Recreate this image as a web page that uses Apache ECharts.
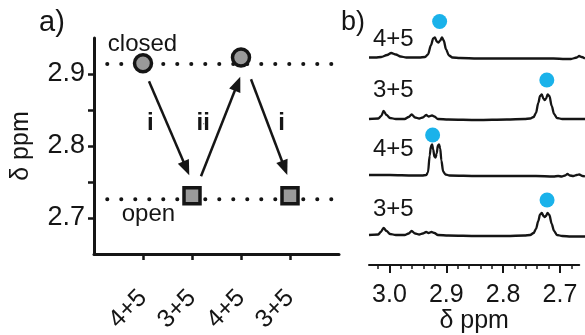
<!DOCTYPE html>
<html><head><meta charset="utf-8">
<script src="https://cdn.jsdelivr.net/npm/echarts@6/dist/echarts.min.js"></script>
<style>html,body{margin:0;padding:0;background:#fff}#c{width:585px;height:335px}</style>
</head><body><div id="c"></div>
<script>
// ---------- Panel a data ----------
const aCategories = ['4+5', '3+5', '4+5', '3+5'];
const aPositions = [1, 2, 3, 4];
const closedPoints = [[1, 2.915], [3, 2.923]];
const openPoints = [[2, 2.731], [4, 2.731]];
const closedLevel = [[0.27, 2.914], [5, 2.914]];
const openLevel = [[0.27, 2.726], [5, 2.726]];
const arrowStarts = [[1.122, 2.890], [2.184, 2.758], [3.204, 2.8927]];
const arrowEnds = [[1.884, 2.769], [2.929, 2.8865], [3.890, 2.7695]];
const arrowLabels = [[1.16, 2.831, 'i'], [2.24, 2.831, 'ii'], [3.84, 2.831, 'i']];
const stateLabels = [[1.0, 2.9407, 'closed'], [1.12, 2.705, 'open']];
const aYTicks = [2.7, 2.75, 2.8, 2.85, 2.9];
const aYLabels = [2.7, 2.8, 2.9];

// ---------- Panel b data (ppm, intensity) ----------
const traceNames = ['4+5', '3+5', '4+5', '3+5'];
const spec1 = [[3.036,0],[3.025,0],[3.015,0.5],[3.005,2.5],[2.998,4.5],[2.990,3],[2.982,1],[2.972,0],[2.960,0],[2.950,0],[2.940,0.5],[2.935,3],[2.930,12],[2.926,19],[2.923,20],[2.920,16],[2.917,15],[2.914,17],[2.911,20],[2.908,17],[2.904,8],[2.899,2],[2.893,0],[2.880,-0.5],[2.850,-1],[2.800,-1],[2.750,-1],[2.720,-1],[2.700,-1.5],[2.690,-1.5],[2.680,0],[2.676,1.5],[2.672,0.5],[2.666,-1]];
const spec2 = [[3.036,0],[3.020,0.5],[3.015,3],[3.011,8],[3.006,4],[3.000,1],[2.990,0],[2.975,0],[2.968,2],[2.963,4.5],[2.957,1.5],[2.950,0.5],[2.944,1.5],[2.938,4],[2.934,2.5],[2.928,3.5],[2.924,2.5],[2.918,0],[2.900,-0.5],[2.850,-1],[2.800,-0.5],[2.770,0],[2.760,0.5],[2.754,2],[2.750,6],[2.746,16],[2.743,23],[2.740,24.5],[2.737,20],[2.735,19],[2.733,20],[2.730,24.5],[2.727,23],[2.723,13],[2.719,5],[2.714,1],[2.705,0],[2.690,0],[2.666,0]];
const spec3 = [[3.036,0.5],[3.000,0.5],[2.960,0],[2.945,0],[2.938,0.5],[2.935,3],[2.932,20],[2.930,29],[2.928,31],[2.926,26],[2.924,19],[2.922,18],[2.920,22],[2.918,30],[2.916,31],[2.914,27],[2.912,15],[2.909,4],[2.905,1],[2.898,0],[2.850,-0.5],[2.800,-0.5],[2.750,-0.5],[2.720,-1],[2.712,-0.5],[2.706,-1],[2.700,0],[2.696,1.5],[2.692,0],[2.686,-0.5],[2.680,0.5],[2.676,1],[2.670,-0.5],[2.666,-1]];
const spec4 = [[3.036,0],[3.020,0.5],[3.016,3],[3.011,7],[3.006,4],[3.000,1],[2.990,0],[2.975,0],[2.968,1.5],[2.963,4],[2.957,1.5],[2.950,0.5],[2.944,1.5],[2.938,3],[2.934,2],[2.929,3],[2.924,2],[2.918,0],[2.900,-0.5],[2.850,-1],[2.800,-1],[2.770,-0.5],[2.760,0],[2.754,2],[2.750,6],[2.746,14],[2.743,20.5],[2.740,22],[2.737,19],[2.735,18],[2.733,19],[2.730,22],[2.727,20],[2.723,11],[2.719,4],[2.714,0],[2.705,-1],[2.690,-1.5],[2.666,-1.5]];
const spectra = [spec1, spec2, spec3, spec4];
const dotPoints = [[2.915, 36], [2.7314, 39], [2.927, 40.5], [2.731, 35]];
const bMajorTicks = [3.0, 2.9, 2.8, 2.7];
const bMinorTicks = [3.02, 2.98, 2.96, 2.94, 2.92, 2.88, 2.86, 2.84, 2.82, 2.78, 2.76, 2.74, 2.72, 2.68];
const bRange = [2.666, 3.036];

// ---------- layout / style ----------
const FONT = 'Liberation Sans';
const INK = '#151515';
const baselines = [57.5, 119, 175.5, 235];
const bLeft = 369, bWidth = 216;

const grids = [{left: 94, top: 38, width: 245, height: 225}];
const xAxes = [{
  gridIndex: 0, type: 'value', min: 0, max: 5,
  axisLine: {onZero: false, lineStyle: {color: INK, width: 3}},
  axisTick: {customValues: aPositions, length: 6, lineStyle: {color: INK, width: 2.5}},
  axisLabel: {customValues: aPositions, formatter: v => aCategories[Math.round(v) - 1] || '',
    rotate: 45, fontSize: 25, fontFamily: FONT, color: INK, margin: 40},
  splitLine: {show: false}
}];
const yAxes = [{
  gridIndex: 0, type: 'value', min: 2.65, max: 2.95,
  axisLine: {show: true, onZero: false, lineStyle: {color: INK, width: 3}},
  axisTick: {customValues: aYTicks, length: 6, lineStyle: {color: INK, width: 2.5}},
  axisLabel: {customValues: aYLabels, formatter: v => v.toFixed(1), fontSize: 27, fontFamily: FONT, color: INK, margin: 9},
  splitLine: {show: false},
  name: 'δ ppm', nameLocation: 'middle', nameGap: 60, nameRotate: 90,
  nameTextStyle: {fontSize: 25, fontFamily: FONT, color: INK}
}];
baselines.forEach((b, i) => {
  grids.push({left: bLeft, width: bWidth, top: b - 45, height: 50});
  xAxes.push({gridIndex: i + 1, type: 'value', min: bRange[0], max: bRange[1], inverse: true, show: false});
  yAxes.push({gridIndex: i + 1, type: 'value', min: -5, max: 45, show: false});
});
grids.push({left: bLeft, width: bWidth, top: 215, height: 50});
xAxes.push({
  gridIndex: 5, type: 'value', min: bRange[0], max: bRange[1], inverse: true, position: 'bottom',
  axisLine: {onZero: false, lineStyle: {color: INK, width: 2}},
  axisTick: {customValues: bMajorTicks, length: 8, lineStyle: {color: INK, width: 2}},
  axisLabel: {customValues: bMajorTicks, formatter: v => v.toFixed(1), fontSize: 25, fontFamily: FONT, color: INK, margin: 18},
  splitLine: {show: false},
  name: 'δ ppm', nameLocation: 'middle', nameGap: 43,
  nameTextStyle: {fontSize: 25, fontFamily: FONT, color: INK}
});
xAxes.push({
  gridIndex: 5, type: 'value', min: bRange[0], max: bRange[1], inverse: true, position: 'bottom',
  axisLine: {show: false, onZero: false},
  axisTick: {customValues: bMinorTicks, length: 4, lineStyle: {color: INK, width: 1.5}},
  axisLabel: {show: false}, splitLine: {show: false}
});
yAxes.push({gridIndex: 5, type: 'value', min: 0, max: 1, show: false});

const dotted = {color: INK, width: 4, type: [0.1, 13.9], cap: 'round'};
const textLabel = (size, weight) => ({show: true, position: [0, 0], align: 'center', verticalAlign: 'middle',
  formatter: p => p.data[2], fontSize: size, fontWeight: weight, fontFamily: FONT, color: INK,
  textBorderWidth: 0, opacity: 1});
const series = [
  {type: 'line', xAxisIndex: 0, yAxisIndex: 0, data: closedLevel, showSymbol: false, lineStyle: dotted, z: 1, silent: true},
  {type: 'line', xAxisIndex: 0, yAxisIndex: 0, data: openLevel, showSymbol: false, lineStyle: dotted, z: 1, silent: true},
  {type: 'scatter', xAxisIndex: 0, yAxisIndex: 0, data: [], z: 2,
    markLine: {silent: true, symbol: ['none', 'triangle'], symbolSize: [12, 15],
      lineStyle: {color: INK, width: 2.5, type: 'solid'}, itemStyle: {color: INK}, label: {show: false},
      data: arrowStarts.map((s, i) => [{coord: s}, {coord: arrowEnds[i]}])}},
  {type: 'scatter', xAxisIndex: 0, yAxisIndex: 0, data: closedPoints, symbol: 'circle', symbolSize: 17, z: 3,
    itemStyle: {color: '#9a9a9a', borderColor: INK, borderWidth: 3.5, opacity: 1}},
  {type: 'scatter', xAxisIndex: 0, yAxisIndex: 0, data: openPoints, symbol: 'rect', symbolSize: 16, z: 3,
    itemStyle: {color: '#9a9a9a', borderColor: INK, borderWidth: 3.5, opacity: 1}},
  {type: 'scatter', xAxisIndex: 0, yAxisIndex: 0, data: arrowLabels, symbolSize: 1, z: 4,
    itemStyle: {color: INK, opacity: 1}, label: textLabel(24, 'bold')},
  {type: 'scatter', xAxisIndex: 0, yAxisIndex: 0, data: stateLabels, symbolSize: 1, z: 4,
    itemStyle: {color: INK, opacity: 0}, label: textLabel(24, 'normal')}
];
spectra.forEach((s, i) => {
  series.push({type: 'line', xAxisIndex: i + 1, yAxisIndex: i + 1, data: s, showSymbol: false,
    smooth: 0.3, smoothMonotone: 'x', lineStyle: {color: INK, width: 2.3}, clip: false});
  series.push({type: 'scatter', xAxisIndex: i + 1, yAxisIndex: i + 1, data: [dotPoints[i]],
    symbolSize: 15, itemStyle: {color: '#1AB2EA', opacity: 1}, clip: false});
});

const graphics = [
  {type: 'text', left: 39, top: 8, style: {text: 'a)', fontSize: 29, fontFamily: FONT, fill: INK}},
  {type: 'text', left: 341, top: 9, style: {text: 'b)', fontSize: 27, fontFamily: FONT, fill: INK}}
];
const labelYs = [41.5, 92.5, 151, 211];
traceNames.forEach((n, i) => {
  graphics.push({type: 'text', left: 373, top: labelYs[i] - 14,
    style: {text: n, fontSize: 24, fontFamily: FONT, fill: INK}});
});

const chart = echarts.init(document.getElementById('c'), null, {renderer: 'canvas'});
chart.setOption({
  animation: false, backgroundColor: '#fff',
  grid: grids, xAxis: xAxes, yAxis: yAxes, series: series, graphic: graphics
});
</script></body></html>
